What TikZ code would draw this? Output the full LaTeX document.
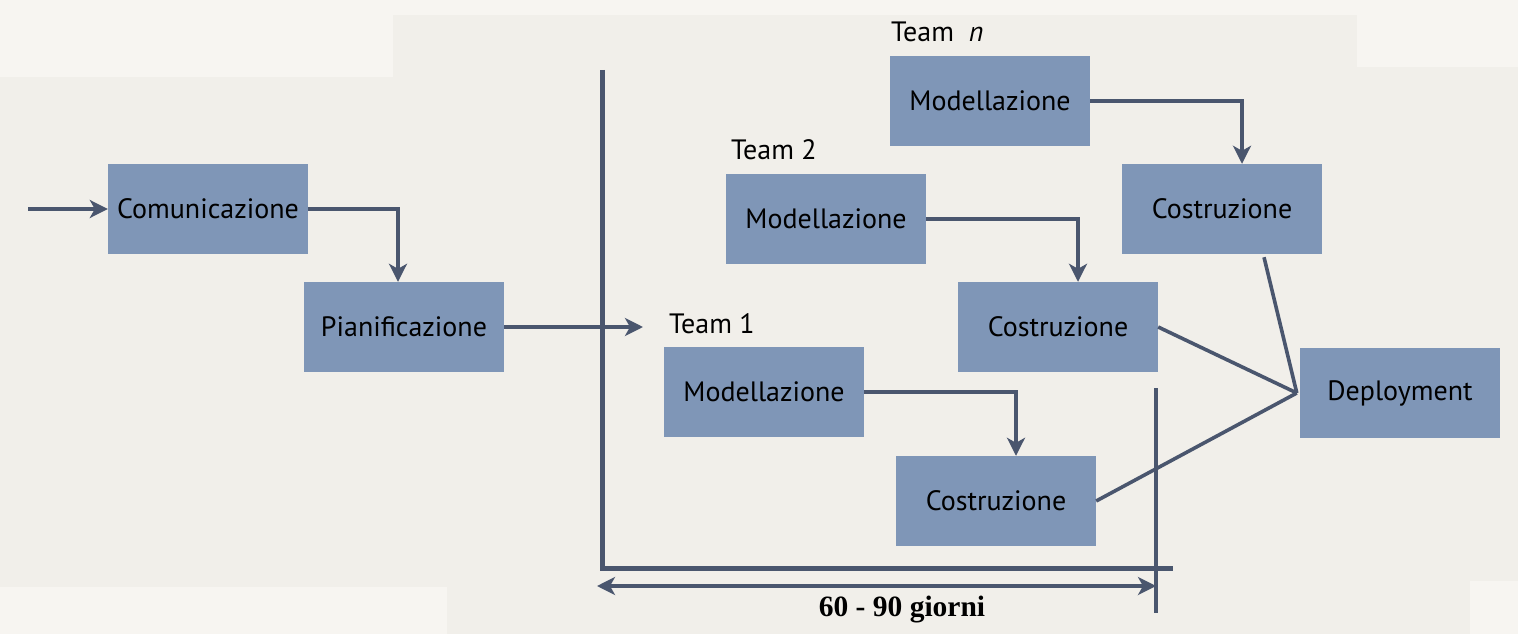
\documentclass[tikz,border=0pt]{standalone}
\usepackage{fontspec}
\setmainfont{PT Sans}
\newfontfamily\lserif{Liberation Serif}
\usetikzlibrary{arrows.meta,calc}
\definecolor{bgA}{HTML}{F1EFEA}
\definecolor{bgB}{HTML}{F7F5F1}
\definecolor{boxfill}{HTML}{7F96B7}
\definecolor{lineC}{HTML}{4A566E}
\tikzset{
  box/.style={fill=boxfill, minimum width=200pt, minimum height=90pt, inner sep=0pt, font=\fontsize{28}{30}\selectfont},
  lbl/.style={anchor=base west, inner sep=0pt, font=\fontsize{28}{30}\selectfont},
  conn/.style={draw=lineC, line width=3.6pt},
  arr/.style={conn, -{Stealth[length=18pt,width=18pt,inset=5pt]}},
  axisline/.style={draw=lineC, line width=5pt},
  thinv/.style={draw=lineC, line width=3.6pt},
  dbl/.style={draw=lineC, line width=3.4pt, {Stealth[length=18pt,width=18pt,inset=5pt]}-{Stealth[length=18pt,width=18pt,inset=5pt]}}
}
\begin{document}
\begin{tikzpicture}[x=1pt,y=-1pt]
% background
\fill[bgA] (0,0) rectangle (1518,634);
\useasboundingbox (0,0) rectangle (1518,634);
\fill[bgB] (0,0) rectangle (393,77);
\fill[bgB] (393,0) rectangle (1357,15);
\fill[bgB] (1357,0) rectangle (1518,67);
\fill[bgB] (0,587) rectangle (447,634);
\fill[bgB] (1470,581) rectangle (1518,634);

% boxes
\node[box] (com) at (208,209) {Comunicazione};
\node[box] (pia) at (404,327) {Pianificazione};
\node[box] (m1) at (764,392) {Modellazione};
\node[box] (c1) at (996,501) {Costruzione};
\node[box] (m2) at (826,219) {Modellazione};
\node[box] (c2) at (1058,327) {Costruzione};
\node[box] (mn) at (990,101) {Modellazione};
\node[box] (cn) at (1222,209) {Costruzione};
\node[box] (dep) at (1400,393) {Deployment};

% labels
\node[lbl] (l1) at (669,333) {Team 1};
\node[lbl] (l2) at (731,159) {Team 2};
\node[lbl] (ln) at (891,42) {Team\ \ \textit{n}};
\node[font=\lserif\bfseries\fontsize{29.5}{31}\selectfont, inner sep=0pt] (days) at (902,610) {60 - 90 giorni};

% coordinates
\coordinate (in) at (28,209);
\coordinate (t1) at (643,327);
\coordinate (axtop) at (602,70);
\coordinate (axcorner) at (602,568);
\coordinate (axend) at (1173,568);
\coordinate (vtop) at (1156,388);
\coordinate (vbot) at (1156,613);
\coordinate (dl) at (597,586);
\coordinate (dr) at (1156,586);

% axes
\draw[axisline] (axtop) -- (axcorner) -- (axend);
\draw[thinv] (vtop) -- (vbot);
\draw[dbl] (dl) -- (dr);

% connectors
\draw[arr] (in) -- (com.west);
\draw[arr] (com.east) -| ([xshift=-6pt]pia.north);
\draw[arr] (pia.east) -- (t1);
\draw[arr] (m1.east) -| ([xshift=20pt]c1.north);
\draw[arr] (m2.east) -| ([xshift=20pt]c2.north);
\draw[arr] (mn.east) -| ([xshift=20pt]cn.north);
\draw[conn] ([xshift=42pt,yshift=-3pt]cn.south) -- ([xshift=-3pt]dep.west);
\draw[conn] (c2.east) -- ([xshift=-3pt]dep.west);
\draw[conn] (c1.east) -- ([xshift=-3pt]dep.west);
\end{tikzpicture}
\end{document}
